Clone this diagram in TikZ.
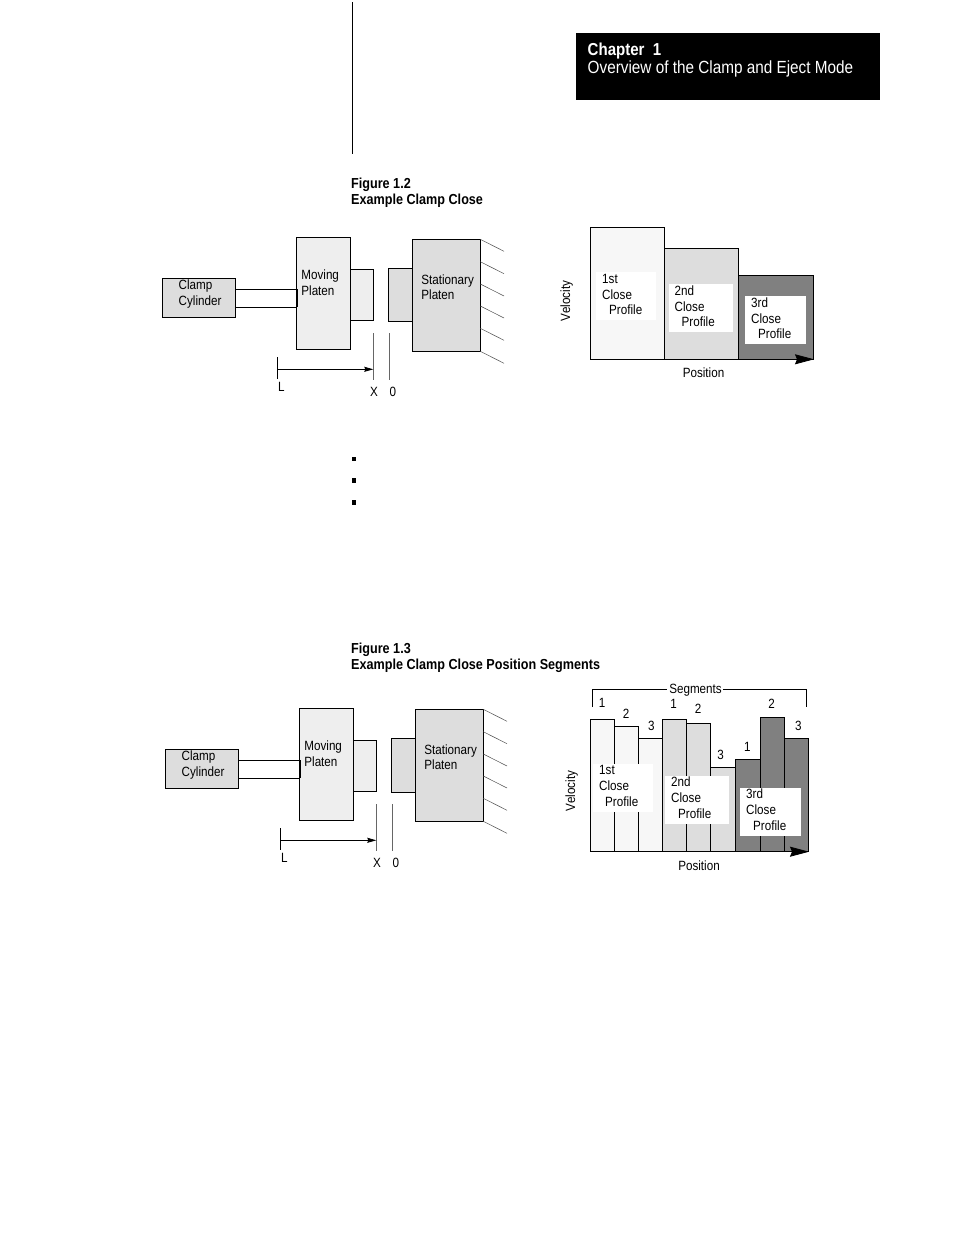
\documentclass[tikz,border=0pt]{standalone}
\usepackage{fontspec}
\setmainfont{Liberation Sans}[FakeStretch=0.87]
\usetikzlibrary{arrows.meta}
\definecolor{lightA}{HTML}{F7F7F7}
\definecolor{lightB}{HTML}{EEEEEE}
\definecolor{midC}{HTML}{DDDDDD}
\definecolor{darkD}{HTML}{808080}
\tikzset{
  part/.style={draw=black,line width=0.8pt,inner sep=0pt,outer sep=0pt},
  blank/.style={fill=white,inner sep=0pt,outer sep=0pt},
  solidmark/.style={fill=black,inner sep=0pt,outer sep=0pt},
  thinline/.style={draw=black,line width=0.7pt},
  greyline/.style={draw=black!60,line width=0.7pt},
  lab/.style={anchor=base west,inner sep=0pt,font=\fontsize{13.4}{15}\selectfont},
  labc/.style={anchor=base,inner sep=0pt,font=\fontsize{13.4}{15}\selectfont},
  capt/.style={anchor=base west,inner sep=0pt,font=\fontsize{14.5}{16}\selectfont\bfseries},
  bigarrow/.style={-{Stealth[length=19pt,width=10pt,inset=2pt]},line width=0.8pt},
  smallarrow/.style={-{Stealth[length=9pt,width=5pt,inset=1pt]},line width=0.8pt},
}
% name, x1, y1, x2, y2, style
\newcommand{\rectnode}[6]{\node[#6,minimum width={(#4-(#2))*1pt},minimum height={(#5-(#3))*1pt}] (#1) at ({(#2+#4)/2},{(#3+#5)/2}) {};}
% suffix, stationary platen vertical offset
\newcommand{\clampdiagram}[2]{%
  \rectnode{cyl#1}{162.3}{278.3}{235.7}{317.3}{part,fill=midC}
  \rectnode{mov#1}{296.3}{237.3}{350}{349.3}{part,fill=lightB}
  \rectnode{movs#1}{350}{269.3}{373.3}{320.3}{part,fill=lightB}
  \rectnode{stas#1}{388.3}{(268.3+#2)}{412.3}{321.3}{part,fill=midC}
  \rectnode{sta#1}{412.3}{(239.3+#2)}{480.3}{(351.3+#2)}{part,fill=midC}
  \coordinate (ra#1) at (235.7,289.3);
  \coordinate (rb#1) at (235.7,307.3);
  \coordinate (rc#1) at (297,289.3);
  \coordinate (rd#1) at (297,307.3);
  \draw[thinline] (ra#1) -- (rc#1);
  \draw[thinline] (rb#1) -- (rd#1);
  \draw[draw=black,line width=1.2pt] (rc#1) -- (rd#1);
  \foreach \yy [count=\i] in {239.3,261.7,284,306,328.3,351.3}{
    \coordinate (ha\i#1) at (480.3,{\yy+#2});
    \coordinate (hb\i#1) at (504,{\yy+#2+12});
    \draw[draw=black!70,line width=0.5pt] (ha\i#1) -- (hb\i#1);
  }
  \coordinate (lt#1) at (277.3,357.3);
  \coordinate (lb#1) at (277.3,379);
  \coordinate (lm#1) at (277.3,369.3);
  \coordinate (xt#1) at (373.3,333.3);
  \coordinate (xb#1) at (373.3,380);
  \coordinate (xm#1) at (373.3,369.3);
  \coordinate (zt#1) at (389,333.3);
  \coordinate (zb#1) at (389,380);
  \draw[thinline] (lt#1) -- (lb#1);
  \draw[greyline] (xt#1) -- (xb#1);
  \draw[greyline] (zt#1) -- (zb#1);
  \draw[smallarrow] (lm#1) -- (xm#1);
  \node[lab] (tcl#1) at (178.5,289.5) {Clamp};
  \node[lab] (tcy#1) at (178.5,305.5) {Cylinder};
  \node[lab] (tmo#1) at (301.2,279) {Moving};
  \node[lab] (tmp#1) at (301.2,295) {Platen};
  \node[lab] (tst#1) at (421.2,{284+#2}) {Stationary};
  \node[lab] (tsp#1) at (421.2,{299+#2}) {Platen};
  \node[lab] (tl#1) at (278,391.5) {L};
  \node[lab] (tx#1) at (370,396) {X};
  \node[lab] (tz#1) at (389.5,396) {0};
}
% name, x, y of first line, indent of last line, first line text
\newcommand{\profile}[5]{%
  \node[lab] (#1a) at (#2,#3) {#5};
  \node[lab] (#1b) at (#2,{#3+16}) {Close};
  \node[lab] (#1c) at ({#2+#4},{#3+31.6}) {Profile};
}
\begin{document}
\begin{tikzpicture}[x=1pt,y=-1pt]
\useasboundingbox (0,0) rectangle (954,1235);
\fill[white] (0,0) rectangle (954,1235);
% header
\rectnode{head}{576}{33}{880}{100}{solidmark}
\node[anchor=base west,inner sep=0pt,text=white,font=\fontsize{17.3}{20}\selectfont\bfseries] (hone) at (587.5,55) {Chapter\ \ 1};
\node[anchor=base west,inner sep=0pt,text=white,font=\fontsize{17.6}{20}\selectfont] (htwo) at (587.5,73.5) {Overview of the Clamp and Eject Mode};
\coordinate (va) at (352,2);
\coordinate (vb) at (352,154);
\draw[draw=black,line width=0.8pt] (va) -- (vb);
% captions
\node[capt] (c1a) at (351,188.5) {Figure 1.2};
\node[capt] (c1b) at (351,204.5) {Example Clamp Close};
\node[capt] (c2a) at (351,653.5) {Figure 1.3};
\node[capt] (c2b) at (351,669.5) {Example Clamp Close Position Segments};
% bullets
\rectnode{b1}{351.5}{456.5}{356}{461}{solidmark}
\rectnode{b2}{351.5}{478.3}{356}{482.8}{solidmark}
\rectnode{b3}{351.5}{500.2}{356}{504.8}{solidmark}
% mechanisms
\clampdiagram{A}{0}
\begin{scope}[shift={(3,471)}]
\clampdiagram{B}{-1}
\end{scope}
% chart 1
\rectnode{p1}{590.3}{227.3}{664.7}{359.3}{part,fill=lightA}
\rectnode{p2}{664.7}{248.3}{738.5}{359.3}{part,fill=midC}
\rectnode{p3}{738.5}{275.3}{813.7}{359.3}{part,fill=darkD}
\rectnode{w1}{596}{271.7}{656}{320}{blank}
\rectnode{w2}{669}{284}{733}{332}{blank}
\rectnode{w3}{745}{296}{806}{344}{blank}
\coordinate (aa) at (780,359.3);
\coordinate (ab) at (814,359.3);
\draw[bigarrow] (aa) -- (ab);
\profile{pa}{602}{283}{7}{1st}
\profile{pb}{674.5}{295}{7}{2nd}
\profile{pc}{751}{307}{7}{3rd}
\node[labc,rotate=90] (vel1) at (570,301) {Velocity};
\node[labc] (pos1) at (703.5,377.5) {Position};
% chart 2
\foreach \n/\xa/\xb/\yt/\cc in {1/590.3/614.7/719.3/lightA,2/614.7/638.7/726.3/lightA,3/638.7/662.3/738.7/lightA,4/662.3/686.7/719.3/midC,5/686.7/710.7/723.3/midC,6/710.7/735.3/767.7/midC,7/735.3/760.3/759.3/darkD,8/760.3/784.7/717.3/darkD,9/784.7/808.7/738.7/darkD}{
  \rectnode{s\n}{\xa}{\yt}{\xb}{851.7}{part,fill=\cc}
}
\rectnode{w4}{592.7}{764}{653}{812}{blank}
\rectnode{w5}{665}{776}{729}{824}{blank}
\rectnode{w6}{740}{788}{801}{835.7}{blank}
\coordinate (ac) at (775,851.7);
\coordinate (ad) at (809,851.7);
\draw[bigarrow] (ac) -- (ad);
\profile{pd}{599}{774.5}{6}{1st}
\profile{pe}{671}{786.5}{7}{2nd}
\profile{pf}{746}{798.5}{7}{3rd}
\node[labc,rotate=90] (vel2) at (575,791) {Velocity};
\node[labc] (pos2) at (699,870) {Position};
\node[labc] (seg) at (695.5,693) {Segments};
\coordinate (bl) at (592,707);
\coordinate (blt) at (592,689.3);
\coordinate (blr) at (667,689.3);
\coordinate (brl) at (723,689.3);
\coordinate (brt) at (806.7,689.3);
\coordinate (br) at (806.7,707);
\draw[thinline] (bl) -- (blt) -- (blr);
\draw[thinline] (brl) -- (brt) -- (br);
\foreach \xx/\yy/\num [count=\i] in {602/707/1,626/718/2,651.3/730/3,673.7/708/1,698/713.5/2,720.7/759/3,747.3/751/1,771.7/708/2,798.3/730/3}{
  \node[labc] (n\i) at (\xx,\yy) {\num};
}
\end{tikzpicture}
\end{document}
